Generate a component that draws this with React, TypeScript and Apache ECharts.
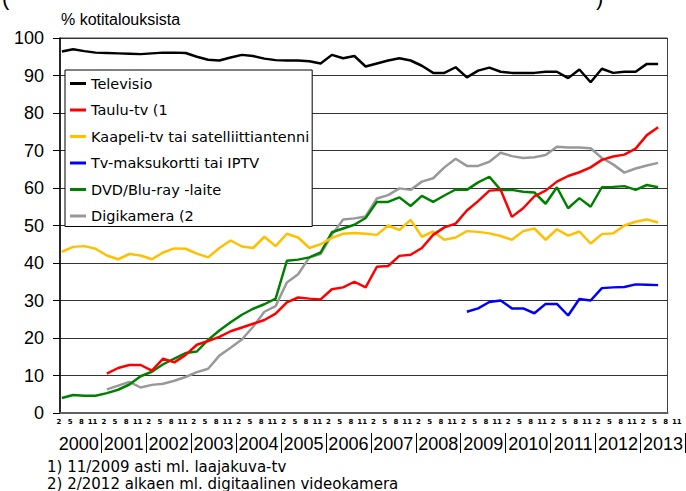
import React, { useEffect, useRef } from "react";
import * as echarts from "echarts";

// Monthly category axis: first category 2000-02
const FIRST_YEAR = 2000;
const FIRST_MONTH = 2;
const PLOT_MONTHS = 162; // 2000-02 .. 2013-07 (plot area)
const LABEL_MONTHS = 167; // 2000-02 .. 2013-12 (label rows run a bit past the frame)
const labelMonths = [2, 5, 8, 11];

const seriesNames = [
  "Televisio",
  "Taulu-tv (1",
  "Kaapeli-tv tai satelliittiantenni",
  "Tv-maksukortti tai IPTV",
  "DVD/Blu-ray -laite",
  "Digikamera (2",
];
const seriesColors = ["#000000", "#ff0000", "#ffc000", "#0000ff", "#008000", "#999999"];

// Values read at quarterly survey points (months 2, 5, 8, 11), first quarter = 2000-02
const televisio = [
  96.4, 97.0, 96.5, 96.1, 96.0, 95.9, 95.8, 95.7, 95.9, 96.1,
  96.1, 96.0, 95.0, 94.2, 94.0, 94.8, 95.5, 95.2, 94.5, 94.1,
  94.0, 94.0, 93.8, 93.2, 95.5, 94.6, 95.2, 92.4, 93.2, 94.0,
  94.6, 94.0, 92.6, 90.7, 90.7, 92.2, 89.5, 91.3, 92.1, 91.0,
  90.7, 90.7, 90.7, 91.0, 91.0, 89.3, 91.6, 88.2, 91.8, 90.7,
  91.0, 91.0, 93.1, 93.1,
];
const tauluStart = 4;
const tauluTv = [
  10.5, 12.0, 12.8, 12.8, 11.3, 14.5, 13.5, 15.5, 18.2, 19.2,
  20.3, 21.8, 22.8, 23.8, 24.8, 26.5, 29.5, 30.8, 30.5, 30.3,
  33.0, 33.5, 35.0, 33.5, 39.0, 39.2, 41.9, 42.2, 44.0, 47.5,
  49.5, 50.5, 54.0, 56.5, 59.3, 59.5, 52.3, 54.6, 57.8, 59.3,
  61.7, 63.2, 64.2, 65.5, 67.5, 68.4, 68.9, 70.5, 74.1, 76.2,
];
const kaapeli = [
  43.0, 44.3, 44.5, 43.8, 42.0, 41.0, 42.4, 42.0, 41.0, 42.8,
  43.9, 43.8, 42.5, 41.5, 44.0, 46.0, 44.4, 44.0, 47.0, 44.5,
  47.8, 46.8, 44.0, 45.0, 46.7, 47.8, 48.0, 47.8, 47.5, 50.0,
  48.8, 51.5, 47.0, 48.4, 46.2, 46.8, 48.5, 48.3, 47.9, 47.2,
  46.2, 48.5, 49.2, 46.2, 49.0, 47.3, 48.4, 45.2, 47.7, 47.9,
  50.0, 51.0, 51.6, 50.8,
];
const maksuStart = 36;
const maksukortti = [
  27.0, 27.9, 29.6, 30.0, 27.9, 27.9, 26.6, 29.1, 29.1, 26.0,
  30.4, 30.0, 33.3, 33.5, 33.6, 34.3, 34.2, 34.1,
];
const dvd = [
  4.0, 4.8, 4.6, 4.6, 5.3, 6.2, 7.6, 9.8, 11.0, 13.0,
  14.5, 16.0, 16.4, 19.5, 22.0, 24.2, 26.2, 27.8, 29.0, 30.5,
  40.6, 40.9, 41.5, 42.8, 48.2, 49.2, 50.2, 52.0, 56.3, 56.3,
  57.5, 55.2, 57.9, 56.3, 58.0, 59.6, 59.5, 61.5, 63.0, 59.5,
  59.5, 59.0, 58.8, 55.8, 60.2, 54.6, 57.3, 55.0, 60.2, 60.3,
  60.5, 59.5, 60.8, 60.2,
];
const digiStart = 4;
const digikamera = [
  6.3, 7.3, 8.3, 6.8, 7.5, 7.8, 8.6, 9.6, 10.9, 11.8,
  15.3, 17.4, 19.6, 23.0, 27.0, 28.5, 34.8, 37.0, 41.5, 42.4,
  47.5, 51.6, 51.9, 52.4, 57.2, 58.1, 59.9, 59.5, 61.7, 62.6,
  65.5, 67.8, 65.9, 65.9, 67.0, 69.4, 68.5, 68.0, 68.2, 68.8,
  71.0, 70.8, 70.8, 70.6, 68.0, 66.3, 64.1, 65.2, 66.0, 66.7,
];

const footnote1 = "1) 11/2009 asti ml. laajakuva-tv";
const footnote2 = "2) 2/2012 alkaen ml. digitaalinen videokamera";
const yTitle = "% kotitalouksista";

function monthCategories(n: number): string[] {
  const out: string[] = [];
  for (let i = 0; i < n; i++) {
    const t = FIRST_MONTH - 1 + i;
    const y = FIRST_YEAR + Math.floor(t / 12);
    const m = (t % 12) + 1;
    out.push(`${y}-${m < 10 ? "0" + m : m}`);
  }
  return out;
}
const plotCats = monthCategories(PLOT_MONTHS);
const labelCats = monthCategories(LABEL_MONTHS);
const monthOf = (c: string) => parseInt(c.slice(5), 10);
const yearOf = (c: string) => c.slice(0, 4);

function toMonthly(values: number[], startQuarter: number): (number | null)[] {
  const arr: (number | null)[] = new Array(PLOT_MONTHS).fill(null);
  values.forEach((v, k) => {
    const idx = (startQuarter + k) * 3;
    if (idx < PLOT_MONTHS) arr[idx] = v;
  });
  return arr;
}

const seriesData = [
  toMonthly(televisio, 0),
  toMonthly(tauluTv, tauluStart),
  toMonthly(kaapeli, 0),
  toMonthly(maksukortti, maksuStart),
  toMonthly(dvd, 0),
  toMonthly(digikamera, digiStart),
];

const option: any = {
  animation: false,
  backgroundColor: "#ffffff",
  title: {
    text: yTitle,
    left: 61,
    top: 11,
    padding: 0,
    textStyle: { fontFamily: "Liberation Sans", fontSize: 16, fontWeight: "normal", color: "#000" },
  },
  legend: {
    orient: "vertical",
    left: 65,
    top: 70,
    padding: [6, 3, 3, 5],
    itemGap: 11.5,
    itemWidth: 16,
    itemHeight: 3,
    icon: "rect",
    backgroundColor: "#ffffff",
    borderColor: "#000000",
    borderWidth: 1,
    borderRadius: 0,
    textStyle: { fontFamily: "DejaVu Sans", fontSize: 14.5, color: "#000" },
    data: seriesNames,
  },
  grid: [
    { left: 60, top: 38, width: 607.5, height: 375, show: true, borderColor: "#404040", borderWidth: 1 },
    { left: 60, top: 38, width: 626.25, height: 375, show: false },
  ],
  xAxis: [
    {
      type: "category",
      gridIndex: 0,
      position: "bottom",
      data: plotCats,
      boundaryGap: true,
      axisLine: { show: true, lineStyle: { color: "#606060", width: 2 } },
      axisTick: { show: false },
      axisLabel: { show: false },
      splitLine: { show: false },
    },
    {
      type: "category",
      gridIndex: 1,
      position: "bottom",
      data: labelCats,
      boundaryGap: true,
      axisLine: { show: false },
      axisTick: { show: false },
      splitLine: { show: false },
      axisLabel: {
        interval: (_i: number, v: string) => labelMonths.indexOf(monthOf(v)) >= 0,
        formatter: (v: string) => String(monthOf(v)),
        fontFamily: "DejaVu Sans",
        fontWeight: "bold",
        fontSize: 7,
        color: "#000",
        margin: 5,
        padding: [0, 6, 0, 0],
      },
    },
    {
      type: "category",
      gridIndex: 1,
      position: "bottom",
      offset: 20,
      data: labelCats,
      boundaryGap: true,
      axisLine: { show: false },
      splitLine: { show: false },
      axisTick: {
        show: true,
        alignWithLabel: false,
        interval: (_i: number, v: string) => monthOf(v) === 1,
        length: 20,
        lineStyle: { color: "#000", width: 1 },
      },
      axisLabel: {
        interval: (_i: number, v: string) => monthOf(v) === 6,
        formatter: (v: string) => yearOf(v),
        fontFamily: "Liberation Sans",
        fontSize: 18,
        color: "#000",
        margin: 2,
        padding: [0, 0, 0, 3.75],
      },
    },
  ],
  yAxis: [
    {
      type: "value",
      gridIndex: 0,
      min: 0,
      max: 100,
      interval: 10,
      axisLine: { show: true, lineStyle: { color: "#000", width: 1.5 } },
      axisTick: { show: true, length: 7, lineStyle: { color: "#000", width: 1 } },
      axisLabel: { fontFamily: "Liberation Sans", fontSize: 18, color: "#000", margin: 16 },
      splitLine: { show: true, lineStyle: { color: "#333333", width: 1 } },
    },
    { type: "value", gridIndex: 1, min: 0, max: 100, show: false },
  ],
  series: seriesNames.map((name, i) => ({
    type: "line",
    name,
    xAxisIndex: 0,
    yAxisIndex: 0,
    data: seriesData[i],
    connectNulls: true,
    symbol: "none",
    showSymbol: false,
    lineStyle: { color: seriesColors[i], width: 2.5 },
    itemStyle: { color: seriesColors[i] },
    z: 10 - i,
  })),
  graphic: [
    {
      type: "text",
      left: 47,
      top: 459,
      style: { text: footnote1, fontFamily: "DejaVu Sans", fontSize: 15, fill: "#000" },
    },
    {
      type: "text",
      left: 47,
      top: 476,
      style: { text: footnote2, fontFamily: "DejaVu Sans", fontSize: 15, fill: "#000" },
    },
    {
      type: "text",
      left: 2,
      top: -14,
      style: { text: "(", fontFamily: "Liberation Sans", fontSize: 22, fill: "#000" },
    },
    {
      type: "text",
      left: 596,
      top: -14,
      style: { text: ")", fontFamily: "Liberation Sans", fontSize: 22, fill: "#000" },
    },
  ],
};

export default function App() {
  const ref = useRef<HTMLDivElement>(null);
  useEffect(() => {
    if (!ref.current) return;
    const chart = echarts.init(ref.current, null, { renderer: "svg" });
    chart.setOption(option);
    return () => chart.dispose();
  }, []);
  return (
    <div
      ref={ref}
      style={{ position: "fixed", left: 0, top: 0, width: 686, height: 491, background: "#fff" }}
    />
  );
}
